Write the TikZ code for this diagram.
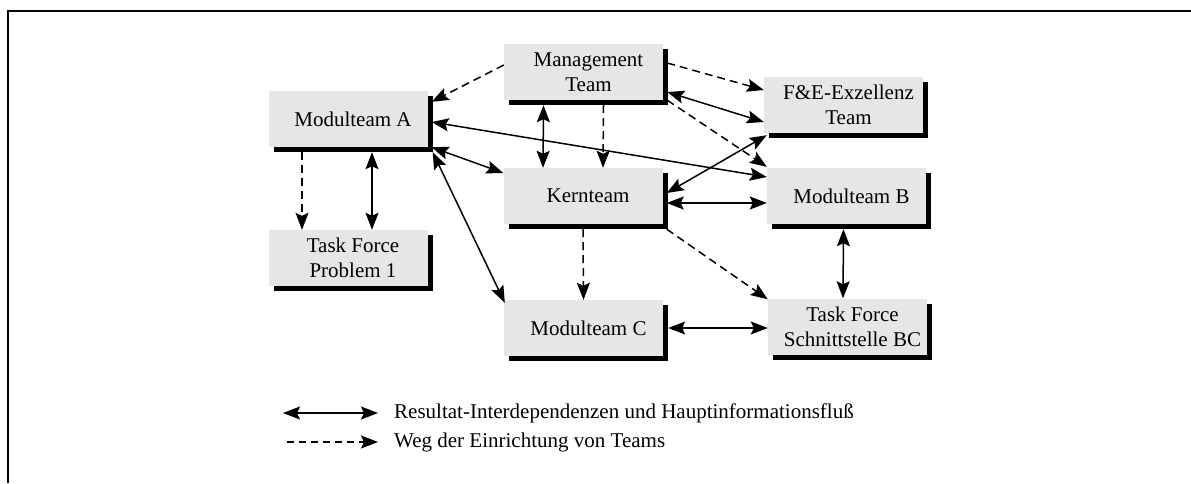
\documentclass[tikz,border=0pt]{standalone}
\usepackage{fontspec}
\setmainfont{Liberation Serif}
\usetikzlibrary{arrows.meta,calc,shadows}
\begin{document}
\begin{tikzpicture}[x=1pt,y=-1pt,
  team/.style={draw=none,fill=boxgray,minimum width=159pt,minimum height=56pt,
    inner sep=0pt,align=center,font=\fontsize{21}{25}\selectfont,
    general shadow={shadow xshift=5pt,shadow yshift=-5pt,fill=black}},
  legendtext/.style={anchor=west,inner sep=0pt,font=\fontsize{21}{25}\selectfont},
  tip/.tip={Stealth[length=17pt,width=13pt,inset=3pt]},
  flow/.style={line width=1.5pt,tip-tip},
  setup/.style={line width=1.5pt,dash pattern=on 8pt off 5pt,-tip},
  frameline/.style={line width=2pt}]
\definecolor{boxgray}{HTML}{E6E6E6}
\useasboundingbox (0,0) rectangle (1191,483);

% open frame: top and left edges only
\coordinate (fl) at (8,483);
\coordinate (fc) at (8,11);
\coordinate (fr) at (1191,11);
\draw[frameline] (fl) -- (fc) -- (fr);

% teams
\node[team] (ma)   at (348,119)   {\hspace*{10pt}Modulteam A};
\node[team] (mgmt) at (583.5,72)  {\hspace*{10pt}Management\\\hspace*{10pt}Team};
\node[team] (kern) at (583,196)   {\hspace*{10pt}Kernteam};
\node[team] (tfp)  at (348,258)   {\hspace*{10pt}Task Force\\\hspace*{10pt}Problem 1};
\node[team] (mc)   at (583.5,328) {\hspace*{10pt}Modulteam C};
\node[team] (fe)   at (843.5,105) {\hspace*{10pt}F\&E-Exzellenz\\\hspace*{10pt}Team};
\node[team] (mb)   at (846.5,196) {\hspace*{10pt}Modulteam B};
\node[team] (tfbc) at (847.5,326.5) {\hspace*{10pt}Task Force\\\hspace*{10pt}Schnittstelle BC};

% setting up teams
\draw[setup] ($(mgmt.west)+(0,-7)$) -- ($(ma.north east)+(4,11)$);
\draw[setup] ($(mgmt.east)+(4,-9)$) -- ($(fe.west)+(0,-15)$);
\draw[setup] ($(mgmt.south east)+(4,0)$) -- ($(mb.north west)+(0,-1)$);
\draw[setup] ($(mgmt.south)+(20,5)$) -- ($(kern.north)+(20,0)$);
\draw[setup] ($(ma.south)+(-46,5)$) -- ($(tfp.north)+(-46,0)$);
\draw[setup] ($(kern.south)+(0,5)$) -- (mc.north);
\draw[setup] ($(kern.south east)+(4,5)$) -- ($(tfbc.north west)+(0,1)$);

% result interdependencies and main information flow
\draw[flow] ($(mgmt.east)+(4,20)$) -- ($(fe.west)+(0,17)$);
\draw[flow] ($(fe.south west)+(3,2)$) -- ($(kern.east)+(4,-3)$);
\draw[flow] ($(ma.east)+(4,3)$) -- ($(mb.west)+(0,-19)$);
\draw[flow] ($(kern.east)+(4,7)$) -- ($(mb.west)+(0,7)$);
\draw[flow] ($(mgmt.south)+(-40,5)$) -- ($(kern.north)+(-40,0)$);
\draw[flow] ($(ma.south east)+(4,0)$) -- ($(kern.west)+(0,-23)$);
\draw[flow] ($(ma.south east)+(5,5)$) -- ($(mc.north west)+(1,3)$);
\draw[flow] ($(ma.south)+(24,5)$) -- ($(tfp.north)+(24,0)$);
\draw[flow] ($(mb.south)+(-3,5)$) -- ($(tfbc.north)+(-4.5,0)$);
\draw[flow] ($(mc.east)+(5,0)$) -- ($(tfbc.west)+(0,1.5)$);

% legend
\coordinate (l1a) at (283,413);
\coordinate (l1b) at (378,413);
\coordinate (l2a) at (287,442);
\coordinate (l2b) at (378,442);
\draw[flow] (l1a) -- (l1b);
\draw[setup,dash pattern=on 7pt off 5pt] (l2a) -- (l2b);
\node[legendtext] (t1) at (394,413) {Resultat-Interdependenzen und Hauptinformationsfluß};
\node[legendtext] (t2) at (394,442) {Weg der Einrichtung von Teams};
\end{tikzpicture}
\end{document}
